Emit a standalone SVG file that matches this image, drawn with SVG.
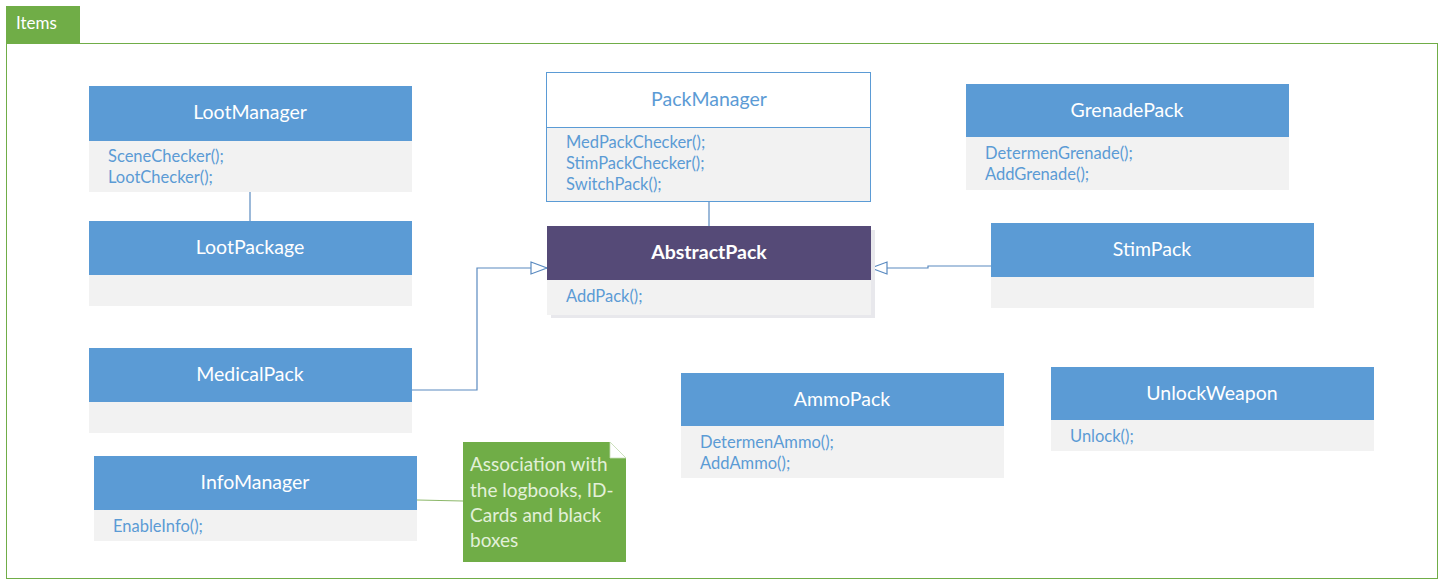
<svg xmlns="http://www.w3.org/2000/svg" width="1445" height="588" viewBox="0 0 1445 588">
<defs>
<style>
.hd{fill:#5B9BD5}
.bd{fill:#F2F2F2}
.ht{font-family:Lato,"Open Sans",sans-serif;font-size:19.5px;fill:#FFFFFF;text-anchor:middle}
.bt{font-family:Lato,"Open Sans",sans-serif;font-size:16.5px;fill:#5B9BD5}
.cn{fill:none;stroke:#5A8AC0;stroke-width:1.2}
</style>
<marker id="tri" markerWidth="20" markerHeight="14" refX="17" refY="7" orient="auto" markerUnits="userSpaceOnUse">
<path d="M1,1 L17,7 L1,13 Z" fill="#FFFFFF" stroke="#5A8AC0" stroke-width="1.2"/>
</marker>
</defs>
<rect width="1445" height="588" fill="#FFFFFF"/>
<g id="frame">
<rect x="6.5" y="43.5" width="1431" height="535" fill="none" stroke="#70AD47" stroke-width="1"/>
<rect x="6" y="6" width="74" height="37" fill="#70AD47"/>
<text x="16" y="29" font-family="Lato,'Open Sans',sans-serif" font-size="17" fill="#FFFFFF">Items</text>
</g>
<g id="connectors">
<line class="cn" x1="250" y1="192" x2="250" y2="221"/>
<line class="cn" x1="709" y1="201" x2="709" y2="226"/>
<polyline class="cn" points="412,390 477,390 477,268 547,268" marker-end="url(#tri)"/>
<polyline class="cn" points="991,266 928,266 928,268 871,268" marker-end="url(#tri)"/>
<line x1="417" y1="500" x2="463" y2="501" stroke="#8DB86B" stroke-width="1.2"/>
</g>
<g id="LootManager">
<rect class="hd" x="89" y="86" width="323" height="55"/>
<rect class="bd" x="89" y="141" width="323" height="51"/>
<text class="ht" x="250" y="119">LootManager</text>
<text class="bt" x="108" y="162">SceneChecker();</text>
<text class="bt" x="108" y="183">LootChecker();</text>
</g>
<g id="LootPackage">
<rect class="hd" x="89" y="221" width="323" height="54"/>
<rect class="bd" x="89" y="275" width="323" height="31"/>
<text class="ht" x="250" y="254">LootPackage</text>
</g>
<g id="MedicalPack">
<rect class="hd" x="89" y="348" width="323" height="54"/>
<rect class="bd" x="89" y="402" width="323" height="31"/>
<text class="ht" x="250" y="381">MedicalPack</text>
</g>
<g id="InfoManager">
<rect class="hd" x="94" y="456" width="323" height="54"/>
<rect class="bd" x="94" y="510" width="323" height="31"/>
<text class="ht" x="255" y="489">InfoManager</text>
<text class="bt" x="113" y="532">EnableInfo();</text>
</g>
<g id="PackManager">
<rect x="546.5" y="72.5" width="324" height="55" fill="#FFFFFF" stroke="#5B9BD5"/>
<rect x="546.5" y="127.5" width="324" height="74" fill="#F2F2F2" stroke="#5B9BD5"/>
<text class="ht" x="709" y="106" style="fill:#5B9BD5">PackManager</text>
<text class="bt" x="566" y="148">MedPackChecker();</text>
<text class="bt" x="566" y="169">StimPackChecker();</text>
<text class="bt" x="566" y="190">SwitchPack();</text>
</g>
<g id="AbstractPack">
<rect x="551" y="230" width="324" height="88" fill="#E8E8EC"/>
<rect x="547" y="226" width="324" height="54" fill="#554A77"/>
<rect class="bd" x="547" y="280" width="324" height="35"/>
<text class="ht" x="709" y="259" font-weight="bold">AbstractPack</text>
<text class="bt" x="566" y="302">AddPack();</text>
</g>
<g id="GrenadePack">
<rect class="hd" x="966" y="84" width="323" height="53"/>
<rect class="bd" x="966" y="137" width="323" height="53"/>
<text class="ht" x="1127" y="117">GrenadePack</text>
<text class="bt" x="985" y="159">DetermenGrenade();</text>
<text class="bt" x="985" y="180">AddGrenade();</text>
</g>
<g id="StimPack">
<rect class="hd" x="991" y="223" width="323" height="54"/>
<rect class="bd" x="991" y="277" width="323" height="31"/>
<text class="ht" x="1152" y="256">StimPack</text>
</g>
<g id="AmmoPack">
<rect class="hd" x="681" y="373" width="323" height="53"/>
<rect class="bd" x="681" y="426" width="323" height="52"/>
<text class="ht" x="842" y="406">AmmoPack</text>
<text class="bt" x="700" y="448">DetermenAmmo();</text>
<text class="bt" x="700" y="469">AddAmmo();</text>
</g>
<g id="UnlockWeapon">
<rect class="hd" x="1051" y="367" width="323" height="53"/>
<rect class="bd" x="1051" y="420" width="323" height="31"/>
<text class="ht" x="1212" y="400">UnlockWeapon</text>
<text class="bt" x="1070" y="442">Unlock();</text>
</g>
<g id="Note">
<path d="M463,442 L610,442 L626,458 L626,562 L463,562 Z" fill="#70AD47"/>
<path d="M610,442 L610,458 L626,458 Z" fill="#FFFFFF" stroke="#C8DDB8" stroke-width="0.8"/>
<g font-family="Lato,'Open Sans',sans-serif" font-size="19" fill="#E2F0D9">
<text x="470" y="471">Association with</text>
<text x="470" y="497">the logbooks, ID-</text>
<text x="470" y="522">Cards and black</text>
<text x="470" y="547">boxes</text>
</g>
</g>
</svg>
